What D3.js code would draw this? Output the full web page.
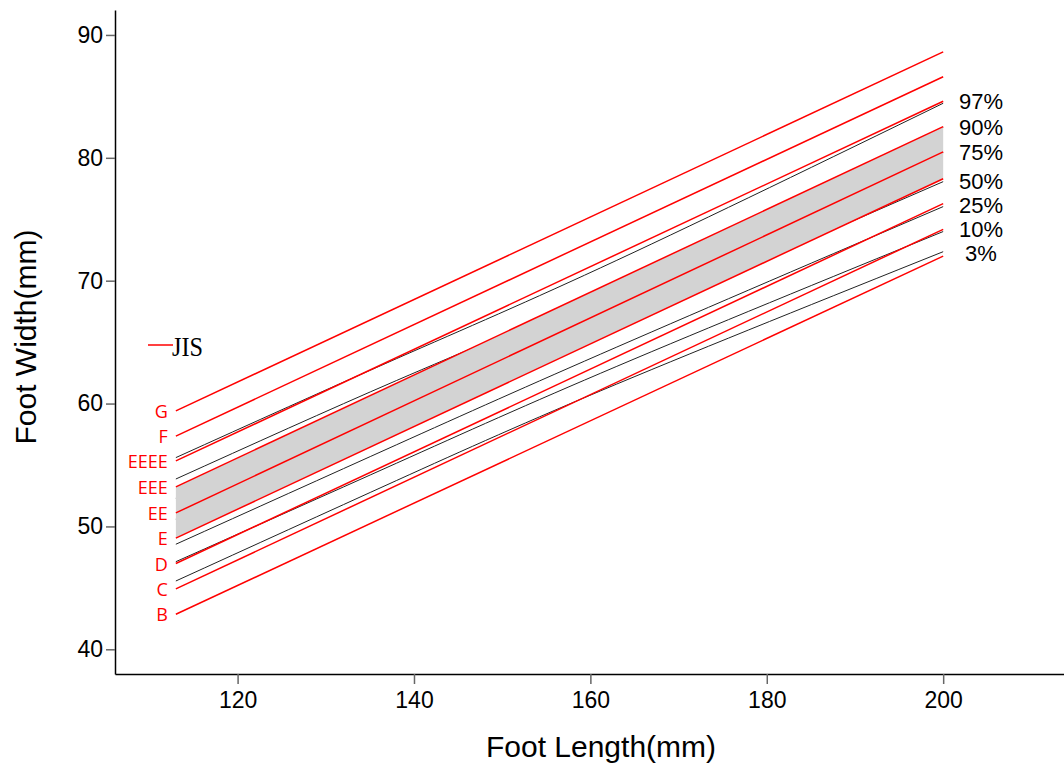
<!DOCTYPE html>
<html>
<head>
<meta charset="utf-8">
<script src="https://cdn.jsdelivr.net/npm/d3@7"></script>
<style>
  body { margin: 0; background: #fff; }
  svg { display: block; }
  text { font-family: "Liberation Sans", Arial, Helvetica, sans-serif; }
</style>
</head>
<body>
<div id="chart"></div>
<script>
// JIS width lines (straight), value at foot length 113 and 200
const jisSizes = ["B", "C", "D", "E", "EE", "EEE", "EEEE", "F", "G"];
const jisStart = [42.85, 44.92, 46.98, 49.05, 51.1, 53.22, 55.33, 57.35, 59.4];
const jisEnd = [72.0, 74.18, 76.27, 78.3, 80.48, 82.54, 84.6, 86.6, 88.62];
const jisLength = [113, 200];

// percentile curves of foot width, sampled at these foot lengths
const pctLength = [113, 138, 163, 200];
const pctNames = ["97%", "90%", "75%", "50%", "25%", "10%", "3%"];
const pct97 = [55.6, 63.65, 71.66, 84.44];
const pct90 = [53.86, 61.87, 69.7, 82.45];
const pct75 = [52.3, 60.3, 68.2, 80.4];
const pct50 = [50.6, 58.6, 66.5, 78.06];
const pct25 = [48.55, 56.64, 64.6, 76.03];
const pct10 = [47.13, 55.14, 63.03, 74.0];
const pct3 = [45.56, 53.73, 61.59, 72.36];

const xTicks = [120, 140, 160, 180, 200];
const yTicks = [40, 50, 60, 70, 80, 90];

const w = 1064, h = 769;
const red = "#ff0000";
// small pixel nudges so the end labels do not collide
const labelNudge = [-1.5, 0, 0, -0.5, -1.2, -2.4, 1.6];

const svg = d3.select("#chart").append("svg").attr("width", w).attr("height", h);

const x = d3.scaleLinear().domain([106.1, 213.7]).range([115, 1064]);
const y = d3.scaleLinear().domain([37.99, 92.03]).range([674, 10]);

// black percentile curves (drawn first, the band covers the inner part)
const pctSeries = [pct97, pct90, pct75, pct50, pct25, pct10, pct3];
const curve = d3.line()
  .x((d, i) => x(pctLength[i]))
  .y(d => y(d))
  .curve(d3.curveNatural);

svg.append("g").selectAll("path")
  .data(pctSeries)
  .join("path")
  .attr("d", d => curve(d))
  .attr("fill", "none")
  .attr("stroke", "#222")
  .attr("stroke-width", 1);

// grey band between E and EEE
const iE = jisSizes.indexOf("E"), iEEE = jisSizes.indexOf("EEE");
const band = d3.area()
  .x((d, i) => x(jisLength[i]))
  .y0(d => y(d[0]))
  .y1(d => y(d[1]));
svg.append("path")
  .attr("d", band([[jisStart[iE], jisStart[iEEE]], [jisEnd[iE], jisEnd[iEEE]]]))
  .attr("fill", "#d3d3d3");

// red JIS lines
const straight = d3.line().x((d, i) => x(jisLength[i])).y(d => y(d));
svg.append("g").selectAll("path")
  .data(jisSizes.map((s, i) => [jisStart[i], jisEnd[i]]))
  .join("path")
  .attr("d", d => straight(d))
  .attr("fill", "none")
  .attr("stroke", red)
  .attr("stroke-width", 1.5);

svg.append("g").selectAll("text")
  .data(jisSizes)
  .join("text")
  .text(d => d)
  .attr("x", x(jisLength[0]) - 8)
  .attr("y", (d, i) => y(jisStart[i]))
  .attr("text-anchor", "end")
  .attr("dominant-baseline", "central")
  .attr("fill", red)
  .style("font-family", "'Open Sans', 'Noto Sans', sans-serif")
  .style("font-size", "18px");

// percentile labels at the right end
svg.append("g").selectAll("text")
  .data(pctSeries)
  .join("text")
  .text((d, i) => pctNames[i])
  .attr("x", 981)
  .attr("y", (d, i) => y(d[d.length - 1]) + labelNudge[i])
  .attr("text-anchor", "middle")
  .attr("dominant-baseline", "central")
  .style("font-size", "22px");

// legend
svg.append("line")
  .attr("x1", 148).attr("x2", 173)
  .attr("y1", 345).attr("y2", 345)
  .attr("stroke", red).attr("stroke-width", 1.5);
svg.append("text")
  .text("JIS")
  .attr("x", 172).attr("y", 356)
  .style("font-family", "'Liberation Serif', 'Times New Roman', serif")
  .style("font-size", "27px")
  .attr("textLength", 31)
  .attr("lengthAdjust", "spacingAndGlyphs");

// axes
const xAxis = svg.append("g")
  .attr("transform", `translate(0,${y.range()[0]})`)
  .call(d3.axisBottom(x).tickValues(xTicks).tickSize(10).tickSizeOuter(0).tickPadding(8));
const yAxis = svg.append("g")
  .attr("transform", `translate(${x.range()[0]},0)`)
  .call(d3.axisLeft(y).tickValues(yTicks).tickSize(9).tickSizeOuter(0).tickPadding(3));

[xAxis, yAxis].forEach(a => {
  a.select(".domain").attr("stroke", "#000").attr("stroke-width", 1.5);
  a.selectAll(".tick line").attr("stroke", "#666").attr("stroke-width", 1.5);
  a.selectAll(".tick text")
    .attr("fill", "#000")
    .style("font-family", "'Liberation Sans', Arial, sans-serif")
    .style("font-size", "23px");
});

svg.append("text")
  .text("Foot Length(mm)")
  .attr("x", 601).attr("y", 757)
  .attr("text-anchor", "middle")
  .style("font-size", "30px");

svg.append("text")
  .text("Foot Width(mm)")
  .attr("transform", "translate(36,337) rotate(-90)")
  .attr("text-anchor", "middle")
  .style("font-size", "30px");
</script>
</body>
</html>
